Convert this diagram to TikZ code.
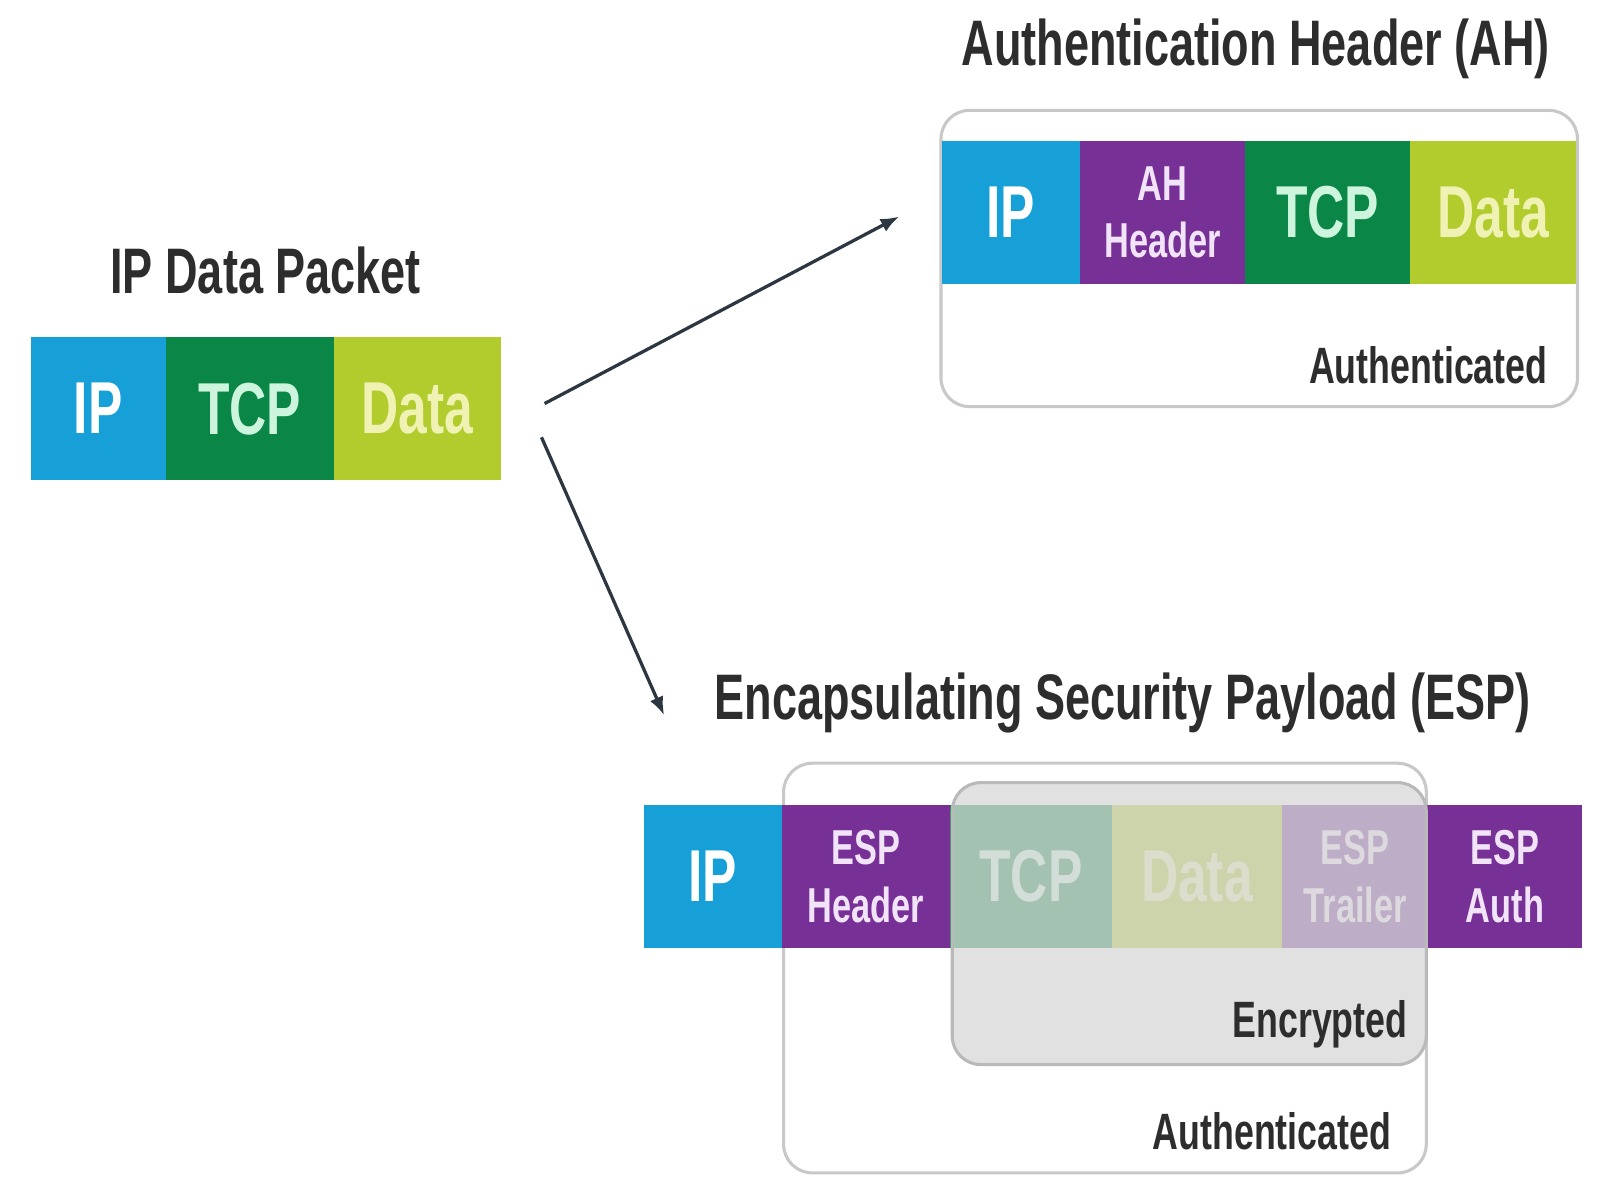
\documentclass[tikz,border=0pt]{standalone}
\usepackage{fontspec}
\setmainfont{Liberation Sans}[FakeStretch=0.7]
\usetikzlibrary{arrows.meta}
\definecolor{ipblue}{RGB}{22,160,215}
\definecolor{tcpgreen}{RGB}{10,135,70}
\definecolor{datalime}{RGB}{178,204,45}
\definecolor{hdrpurple}{RGB}{118,48,150}
\definecolor{txtdark}{RGB}{45,45,45}
\definecolor{arrowcol}{RGB}{45,55,65}
\definecolor{tcptext}{RGB}{205,245,222}
\definecolor{datatext}{RGB}{240,242,180}
\definecolor{hdrtext}{RGB}{242,228,248}
\definecolor{boxline}{RGB}{200,200,200}
\definecolor{encfill}{RGB}{215,215,215}
\definecolor{encline}{RGB}{185,185,185}
\begin{document}
\begin{tikzpicture}[x=0.5pt,y=-0.5pt,
  seg/.style={inner sep=0pt,outer sep=0pt,minimum height=70pt,align=center,
    font=\bfseries\fontsize{36}{40}\selectfont},
  smallseg/.style={seg,font=\bfseries\fontsize{24}{28}\selectfont},
  title/.style={text=txtdark,font=\bfseries\fontsize{31.5}{36}\selectfont,inner sep=0pt},
  note/.style={text=txtdark,font=\bfseries\fontsize{25}{30}\selectfont,inner sep=0pt,anchor=east},
  frame/.style={draw=boxline,line width=1.5pt,rounded corners=14pt},
  conn/.style={draw=arrowcol,line width=1.6pt,-{Latex[length=9pt,width=7pt]}}]
\useasboundingbox[fill=white] (0,0) rectangle (1568,1173);

% ---------- IP Data Packet ----------
\node[title] (t1) at (260,265) {IP Data Packet};
\node[seg,fill=ipblue,text=white,minimum width=66pt] (p1) at (96,400) {IP};
\node[seg,fill=tcpgreen,text=tcptext,minimum width=82.5pt] (p2) at (244.5,400) {TCP};
\node[seg,fill=datalime,text=datatext,minimum width=81.5pt] (p3) at (408.5,400) {Data};

% ---------- AH ----------
\node[title] (t2) at (1229,48) {Authentication Header (AH)};
\draw[frame,fill=white] (921,108) rectangle (1544,398);
\node[seg,fill=ipblue,text=white,minimum width=67.5pt] (h1) at (989.5,208) {IP};
\node[smallseg,fill=hdrpurple,text=hdrtext,minimum width=81pt] (h2) at (1138,208) {AH\\Header};
\node[seg,fill=tcpgreen,text=tcptext,minimum width=80.5pt] (h3) at (1299.5,208) {TCP};
\node[seg,fill=datalime,text=datatext,minimum width=81.5pt] (h4) at (1461.5,208) {Data};
\node[note] (ah) at (1515,357) {Authenticated};

% ---------- ESP ----------
\node[title] (t3) at (1099,688) {Encapsulating Security Payload (ESP)};
\draw[frame,fill=white] (767,747) rectangle (1396,1148);
\node[seg,fill=ipblue,text=white,minimum width=67.5pt] (e1) at (697.5,858) {IP};
\node[smallseg,fill=hdrpurple,text=hdrtext,minimum width=82.5pt] (e2) at (847.5,858) {ESP\\Header};
\node[seg,fill=tcpgreen,text=tcptext,minimum width=79pt] (e3) at (1009,858) {TCP};
\node[seg,fill=datalime,text=datatext,minimum width=83.5pt] (e4) at (1171.5,858) {Data};
\node[smallseg,fill=hdrpurple,text=hdrtext,minimum width=71.5pt] (e5) at (1326.5,858) {ESP\\Trailer};
\node[smallseg,fill=hdrpurple,text=hdrtext,minimum width=75pt] (e6) at (1473,858) {ESP\\Auth};
\draw[draw=encline,line width=1.5pt,rounded corners=14pt,fill=encfill,fill opacity=0.75]
  (932,766) rectangle (1396,1042);
\node[note] (enc) at (1378,1003) {Encrypted};
\node[note] (esp) at (1362,1107) {Authenticated};

% ---------- connectors ----------
\coordinate (a1s) at (533,395);
\coordinate (a1e) at (880,212);
\coordinate (a2s) at (530,428);
\coordinate (a2e) at (650,700);
\draw[conn] (a1s) -- (a1e);
\draw[conn] (a2s) -- (a2e);
\end{tikzpicture}
\end{document}
